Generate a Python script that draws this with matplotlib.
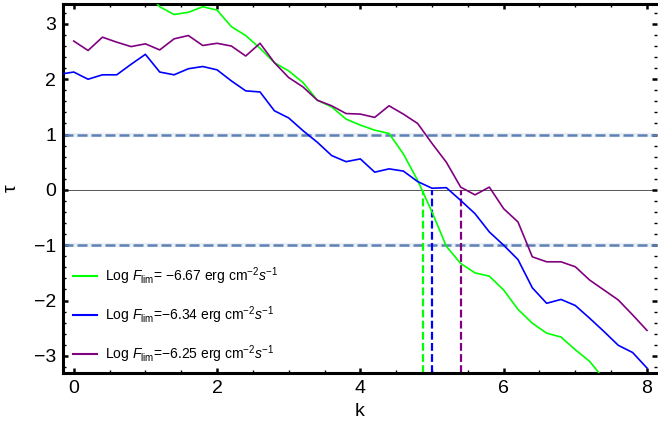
import numpy as np
import matplotlib
matplotlib.use("Agg")
import matplotlib.pyplot as plt
from matplotlib.ticker import MultipleLocator

plt.rcParams['font.family'] = ['Liberation Sans', 'DejaVu Sans']
plt.rcParams['mathtext.fontset'] = 'custom'
plt.rcParams['mathtext.rm'] = 'Liberation Sans'
plt.rcParams['mathtext.it'] = 'Liberation Sans:italic'
plt.rcParams['mathtext.bf'] = 'Liberation Sans:bold'

# ---- data ----
k = [-0.2, 0.0, 0.2, 0.4, 0.6, 0.8, 1.0, 1.2, 1.4, 1.6, 1.8, 2.0, 2.2, 2.4, 2.6,
     2.8, 3.0, 3.2, 3.4, 3.6, 3.8, 4.0, 4.2, 4.4, 4.6, 4.8, 5.0, 5.2, 5.4, 5.6,
     5.8, 6.0, 6.2, 6.4, 6.6, 6.8, 7.0, 7.2, 7.4, 7.6, 7.8, 8.0]

tau_green = [3.9, 3.85, 3.8, 3.75, 3.7, 3.65, 3.6, 3.31, 3.17, 3.21, 3.31, 3.25,
             2.95, 2.79, 2.56, 2.30, 2.15, 1.94, 1.62, 1.50, 1.28, 1.17, 1.08,
             1.02, 0.65, 0.17, -0.40, -1.02, -1.33, -1.50, -1.56, -1.81, -2.16,
             -2.41, -2.59, -2.66, -2.89, -3.10, -3.42, -3.60, -3.80, -4.00]

tau_blue = [2.09, 2.13, 2.00, 2.08, 2.08, 2.27, 2.45, 2.13, 2.08, 2.19, 2.23, 2.17,
            1.97, 1.79, 1.77, 1.43, 1.30, 1.07, 0.86, 0.62, 0.51, 0.56, 0.32,
            0.38, 0.34, 0.15, 0.03, 0.04, -0.19, -0.43, -0.76, -1.00, -1.26,
            -1.77, -2.05, -1.98, -2.09, -2.32, -2.56, -2.81, -2.94, -3.22]

tau_purple = [np.nan, 2.69, 2.52, 2.76, 2.67, 2.59, 2.64, 2.53, 2.73, 2.79, 2.61,
              2.65, 2.60, 2.42, 2.65, 2.30, 2.03, 1.86, 1.62, 1.52, 1.38, 1.37,
              1.31, 1.52, 1.37, 1.20, 0.84, 0.50, 0.05, -0.09, 0.05, -0.34, -0.58,
              -1.21, -1.30, -1.30, -1.39, -1.63, -1.81, -1.99, -2.26, -2.54]

k_cross = [4.87, 5.0, 5.4]          # green, blue, purple zero crossings
h_levels = [1, -1]

labels = [r"Log $F_{\mathrm{lim}}$= −6.67 erg cm$^{-2}$$s^{-1}$",
          r"Log $F_{\mathrm{lim}}$=−6.34 erg cm$^{-2}$$s^{-1}$",
          r"Log $F_{\mathrm{lim}}$=−6.25 erg cm$^{-2}$$s^{-1}$"]
colors = ['#00ff00', '#0000ff', '#800080']
series = [tau_green, tau_blue, tau_purple]

# ---- figure ----
fig = plt.figure(figsize=(6.58, 4.41), dpi=100)
ax = fig.add_axes([63/658, 1-373/441, (657-63)/658, (373-4)/441])

xmin, xmax = -0.15, 8.14
ymin, ymax = -3.31, 3.36

ax.axhline(0, color='#555555', lw=0.7, zorder=1)
for h in h_levels:
    ax.axhline(h, color='#5e81b5', lw=3.2, alpha=0.12, zorder=1.5)
    ax.axhline(h, color='#5e81b5', lw=1.8, ls=(0, (4.0, 1.6)), zorder=2)

for ys, c, lab in zip(series, colors, labels):
    ax.plot(k, ys, color=c, lw=1.2, label=lab, zorder=3)

for kc, c in zip(k_cross, colors):
    ax.plot([kc, kc], [ymin, 0], color=c, lw=1.6, ls=(0, (3.5, 1.5)), zorder=2.5)

ax.set_xlim(xmin, xmax)
ax.set_ylim(ymin, ymax)

ax.xaxis.set_major_locator(MultipleLocator(2))
ax.xaxis.set_minor_locator(MultipleLocator(0.5))
ax.yaxis.set_major_locator(MultipleLocator(1))
ax.yaxis.set_minor_locator(MultipleLocator(0.2))
ax.tick_params(which='both', direction='in', top=True, right=True,
               labelsize=14, pad=5)
ax.tick_params(which='major', length=3.5, width=1.8)
ax.tick_params(which='minor', length=2.5, width=1.0)

for s in ['left', 'bottom', 'top']:
    ax.spines[s].set_linewidth(2.2)
ax.spines['right'].set_visible(False)

ax.set_xlabel('k', fontsize=14, labelpad=4)
ax.set_ylabel('τ', fontsize=14, labelpad=10)

leg = ax.legend(loc='lower left', bbox_to_anchor=(0.0, -0.005), frameon=False,
                fontsize=10, handlelength=1.75, handletextpad=0.55,
                labelspacing=1.25, borderaxespad=0.3)
for line in leg.get_lines():
    line.set_linewidth(1.5)

fig.savefig('out.png', dpi=100)
